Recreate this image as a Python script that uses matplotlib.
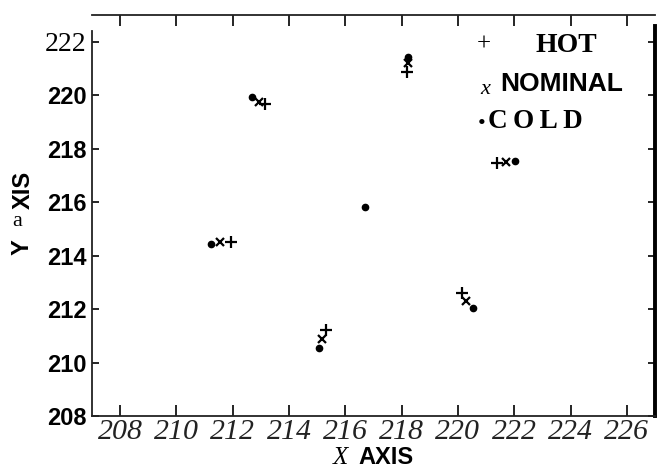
import matplotlib
matplotlib.use("Agg")
from matplotlib import pyplot as plt

# values
hot_x = [213.14, 211.94, 215.30, 218.18, 220.16, 221.40]
hot_y = [219.66, 214.50, 211.21, 220.86, 212.60, 217.46]
nom_x = [212.93, 211.55, 215.16, 218.21, 220.30, 221.72]
nom_y = [219.74, 214.50, 210.88, 221.20, 212.30, 217.50]
cold_x = [212.68, 211.23, 215.06, 216.69, 218.21, 220.52, 222.01]
cold_y = [219.93, 214.43, 210.54, 215.81, 221.42, 212.04, 217.53]

x_ticks = [208, 210, 212, 214, 216, 218, 220, 222, 224, 226]
y_ticks = [208, 210, 212, 214, 216, 218, 220, 222]

W, H = 657, 471
fig = plt.figure(figsize=(W / 100, H / 100), dpi=100)
ax = fig.add_axes([92 / W, 1 - 416 / H, (655 - 92) / W, (416 - 15) / H])

def fx(px):
    return px / W

def fy(py):
    return 1 - py / H

ax.plot(hot_x, hot_y, linestyle="none", marker="+", markersize=8, mew=1.6, color="black")
ax.plot(nom_x, nom_y, linestyle="none", marker="x", markersize=5.5, mew=1.6, color="black")
ax.plot(cold_x, cold_y, linestyle="none", marker="o", markersize=4.5, color="black")

ax.set_xlim(207, 227)
ax.set_ylim(208, 223)

ax.set_xticks(x_ticks)
ax.set_xticklabels([str(v) for v in x_ticks], fontfamily="Liberation Serif",
                   fontstyle="italic", fontsize=21.5, color="#222222")
ax.set_yticks(y_ticks)
ax.set_yticklabels([str(v) for v in y_ticks])
for lab in ax.get_yticklabels():
    if lab.get_text() == "222":
        lab.set_fontfamily("Liberation Serif")
        lab.set_fontsize(20)
    else:
        lab.set_fontfamily("Liberation Sans")
        lab.set_fontweight("bold")
        lab.set_fontsize(17)

ax.tick_params(axis="x", direction="in", length=8, width=1.2, pad=2, top=True)
ax.tick_params(axis="y", direction="in", length=5, width=1.2, pad=4, right=True)

for side in ["left", "bottom", "top"]:
    ax.spines[side].set_linewidth(1.3)
    ax.spines[side].set_color("#222222")
ax.spines["right"].set_linewidth(2.8)
ax.spines["right"].set_color("black")
ax.spines["left"].set_bounds(208, 222.4)
ax.spines["right"].set_bounds(208, 222.6)

# axis titles, pieced together as in the scan
fig.text(fx(340), fy(458), "X", fontfamily="Liberation Serif", fontstyle="italic",
         fontsize=18, ha="center", va="center")
fig.text(fx(386), fy(457), "AXIS", fontfamily="Liberation Sans", fontweight="bold",
         fontsize=17, ha="center", va="center")
fig.text(fx(22), fy(247), "Y", fontfamily="Liberation Sans", fontweight="bold",
         fontsize=17, rotation=90, ha="center", va="center")
fig.text(fx(17), fy(222), "a", fontfamily="Liberation Serif", fontsize=16,
         ha="center", va="center")
fig.text(fx(23), fy(190), "XIS", fontfamily="Liberation Sans", fontweight="bold",
         fontsize=17, rotation=90, ha="center", va="center")

# hand-lettered legend
fig.text(fx(484), fy(45), "+", fontfamily="Liberation Serif", fontsize=18,
         ha="center", va="center")
fig.text(fx(566), fy(45), "HOT", fontfamily="Liberation Serif", fontweight="bold",
         fontsize=20, ha="center", va="center")
fig.text(fx(485), fy(89), "x", fontfamily="Liberation Serif", fontstyle="italic",
         fontsize=16, ha="center", va="center")
fig.text(fx(562), fy(84), "NOMINAL", fontfamily="Liberation Sans", fontweight="bold",
         fontsize=19, ha="center", va="center")
fig.text(fx(482), fy(125), "\u2022", fontfamily="Liberation Serif", fontsize=16,
         ha="center", va="center")
fig.text(fx(535), fy(121), "C\u2009O\u2009L\u2009D", family=["Liberation Serif", "DejaVu Serif"],
         fontweight="bold", fontsize=19.5, ha="center", va="center")

fig.savefig("out.png", dpi=100)
